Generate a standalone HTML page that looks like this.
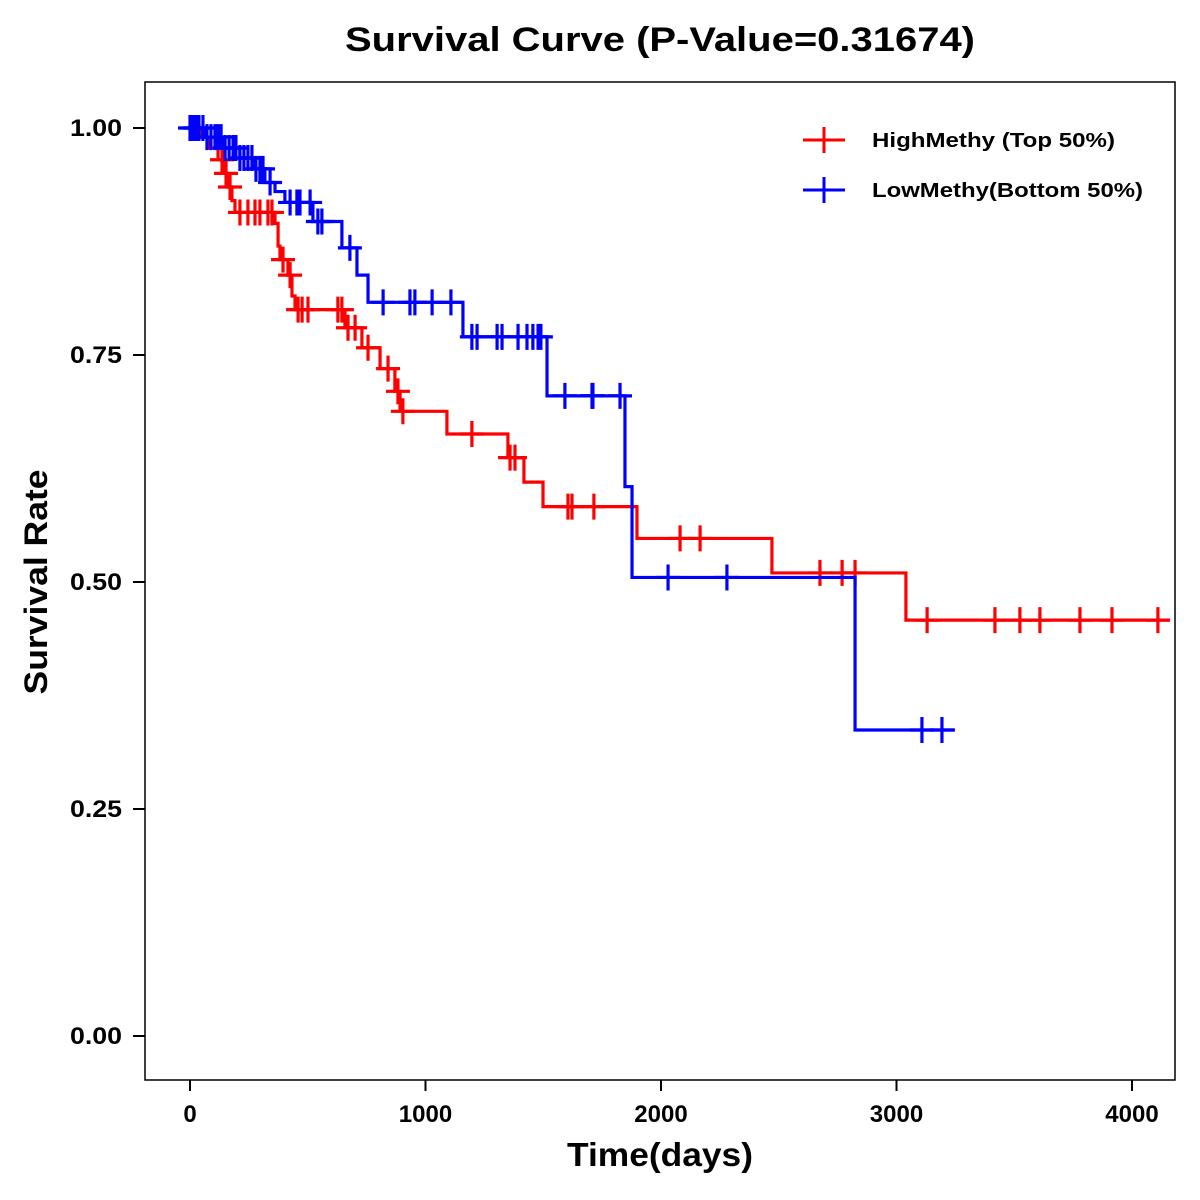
<!DOCTYPE html>
<html><head><meta charset="utf-8"><style>
body{margin:0;background:#fff;}
svg{display:block;font-family:"Liberation Sans",Arial,sans-serif;}
</style></head><body>
<svg id="chart" width="1200" height="1200">
<rect x="0" y="0" width="1200" height="1200" fill="#fff"/>
<text x="660" y="51" text-anchor="middle" font-size="34" font-weight="bold" textLength="630" lengthAdjust="spacingAndGlyphs">Survival Curve (P-Value=0.31674)</text>
<rect x="145" y="82" width="1030" height="998" fill="none" stroke="#000" stroke-width="1.5"/>
<g id="xaxis"></g>
<g id="yaxis"></g>
<text x="660" y="1166" text-anchor="middle" font-size="33" font-weight="bold" textLength="186" lengthAdjust="spacingAndGlyphs">Time(days)</text>
<text transform="translate(47,582) rotate(-90)" text-anchor="middle" font-size="32" font-weight="bold" textLength="225" lengthAdjust="spacingAndGlyphs">Survival Rate</text>
<g id="series"></g>
<g>
<g>
<line x1="803" y1="140" x2="845" y2="140" stroke="#f00" stroke-width="3"/>
<line x1="824" y1="127" x2="824" y2="153" stroke="#f00" stroke-width="3"/>
<text x="872" y="147" font-size="20" font-weight="bold" textLength="243" lengthAdjust="spacingAndGlyphs">HighMethy (Top 50%)</text>
</g>
<g>
<line x1="803" y1="190" x2="845" y2="190" stroke="#00f" stroke-width="3"/>
<line x1="824" y1="177" x2="824" y2="203" stroke="#00f" stroke-width="3"/>
<text x="872" y="197" font-size="20" font-weight="bold" textLength="271" lengthAdjust="spacingAndGlyphs">LowMethy(Bottom 50%)</text>
</g>
</g>
</svg>
<script>
const xTicks=[0,1000,2000,3000,4000];
const yTicks=[0,0.25,0.5,0.75,1.0];
const yTickLabels=["0.00","0.25","0.50","0.75","1.00"];
const highTimes=[42,85,119,149,161,178,191,361,374,382,416,433,446,658,730,807,870,892,1091,1350,1418,1499,1898,2471,3040];
const highValues=[0.99,0.978,0.965,0.95,0.935,0.92,0.907,0.895,0.87,0.855,0.838,0.815,0.80,0.78,0.758,0.735,0.71,0.688,0.663,0.637,0.61,0.583,0.548,0.51,0.458];
const highEnd=4161;
const highCensor=[21,136,153,170,212,246,276,297,331,348,395,425,459,476,501,628,645,671,701,756,841,883,904,1197,1359,1380,1605,1622,1715,2081,2166,2675,2769,2824,3130,3418,3524,3609,3779,3915,4110];
const lowTimes=[64,136,212,276,318,361,403,522,645,709,756,1159,1516,1847,1877,2824];
const lowValues=[0.99,0.978,0.967,0.955,0.94,0.93,0.918,0.897,0.868,0.838,0.808,0.770,0.705,0.605,0.505,0.337];
const lowEnd=3248;
const lowCensor=[0,13,25,38,55,72,89,106,119,132,149,166,183,195,212,229,246,263,280,297,310,340,425,454,467,510,543,560,679,820,934,955,1028,1108,1197,1219,1304,1325,1393,1431,1456,1478,1490,1592,1707,1711,1826,2030,2280,3108,3193];

const NS="http://www.w3.org/2000/svg";
function xs(t){return 190+t*0.2355;}
function ys(v){return 1036-v*908;}
function mk(tag,attrs,parent){const e=document.createElementNS(NS,tag);for(const k in attrs)e.setAttribute(k,attrs[k]);parent.appendChild(e);return e;}
const xa=document.getElementById('xaxis'),ya=document.getElementById('yaxis');
xTicks.forEach(t=>{
  const l=mk('line',{x1:xs(t),x2:xs(t),y1:1080,y2:1091,stroke:'#000','stroke-width':2},xa);
  
  
  const tx=mk('text',{x:xs(t),y:1122,'text-anchor':'middle','font-size':24,'font-weight':'bold'},xa);
  tx.textContent=String(t);
  
  
});
yTicks.forEach((v,i)=>{
  const l=mk('line',{x1:133,x2:145,y1:ys(v),y2:ys(v),stroke:'#000','stroke-width':2},ya);
  
  
  const tx=mk('text',{x:122,y:ys(v)+8,'text-anchor':'end','font-size':24,'font-weight':'bold','textLength':52,'lengthAdjust':'spacingAndGlyphs'},ya);
  tx.textContent=yTickLabels[i];
  
  
});
function valAt(times,vals,t){let v=1;for(let i=0;i<times.length;i++){if(times[i]<=t)v=vals[i];}return v;}
function drawSeries(times,vals,end,cens,color,name){
  const g=mk('g',{},document.getElementById('series'));
  
  
  let d='M'+xs(0)+','+ys(1);
  times.forEach((t,i)=>{d+=' H'+xs(t)+' V'+ys(vals[i]);});
  d+=' H'+xs(end);
  const p=mk('path',{d:d,fill:'none',stroke:color,'stroke-width':3.2},g);
  
  
  cens.forEach(t=>{
    const x=xs(t),y=ys(valAt(times,vals,t));
    const c=mk('path',{d:`M${x-12},${y} H${x+12} M${x},${y-13} V${y+13}`,stroke:color,'stroke-width':3.2,fill:'none'},g);
    
    
  });
}
drawSeries(highTimes,highValues,highEnd,highCensor,'#ff0000','high-methy');
drawSeries(lowTimes,lowValues,lowEnd,lowCensor,'#0000ff','low-methy');
</script>
</body></html>
